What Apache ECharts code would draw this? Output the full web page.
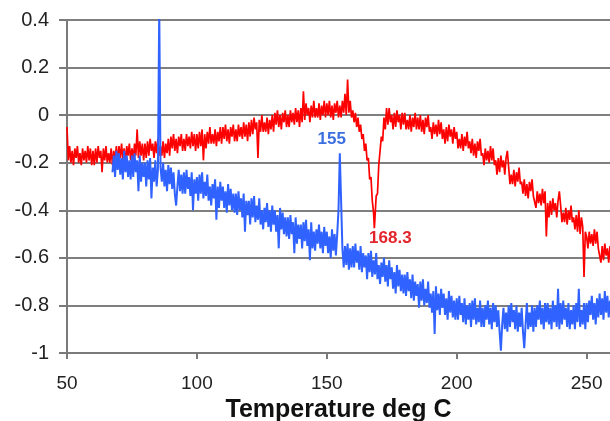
<!DOCTYPE html>
<html>
<head>
<meta charset="utf-8">
<script src="https://cdn.jsdelivr.net/npm/echarts@6/dist/echarts.min.js"></script>
<style>
  html, body { margin: 0; padding: 0; background: #fff; }
  #chart { width: 610px; height: 421px; }
</style>
</head>
<body>
<div id="chart"></div>
<script>
// Sample spacing of both traces, in deg C
const STEP = 0.5;

// Red trace: 50.0 .. 168.0 deg C
const redStart = 50;
const redA = [
  -0.05, -0.19, -0.13, -0.2, -0.15, -0.21, -0.14, -0.18, -0.13, -0.2,
  -0.16, -0.21, -0.14, -0.19, -0.15, -0.2, -0.13, -0.19, -0.14, -0.21,
  -0.15, -0.21, -0.14, -0.2, -0.13, -0.18, -0.15, -0.24, -0.14, -0.19,
  -0.13, -0.2, -0.16, -0.2, -0.14, -0.21, -0.15, -0.19, -0.13, -0.2,
  -0.13, -0.18, -0.12, -0.19, -0.14, -0.2, -0.13, -0.17, -0.12, -0.19,
  -0.14, -0.19, -0.12, -0.17, -0.06, -0.18, -0.11, -0.17, -0.12, -0.19,
  -0.12, -0.18, -0.11, -0.17, -0.1, -0.15, -0.12, -0.18, -0.11, -0.16,
  -0.1, -0.17, -0.13, -0.17, -0.11, -0.18, -0.12, -0.16, -0.1, -0.17,
  -0.09, -0.14, -0.08, -0.15, -0.1, -0.16, -0.09, -0.13, -0.08, -0.15,
  -0.1, -0.15, -0.08, -0.13, -0.09, -0.14, -0.07, -0.13, -0.08, -0.15,
  -0.08, -0.14, -0.07, -0.13, -0.06, -0.19, -0.08, -0.14, -0.07, -0.12,
  -0.05, -0.12, -0.08, -0.12, -0.06, -0.13, -0.07, -0.11, -0.05, -0.12,
  -0.05, -0.1, -0.04, -0.11, -0.06, -0.12, -0.05, -0.09, -0.04, -0.11,
  -0.06, -0.11, -0.04, -0.09, -0.05, -0.1, -0.03, -0.09, -0.04, -0.11,
  -0.03, -0.09, -0.02, -0.08, -0.01, -0.06, -0.03, -0.18, -0.02, -0.07,
  0.0, -0.07, -0.03, -0.07, -0.01, -0.08, -0.02, -0.06, 0.0, -0.07,
  0.01, -0.04, 0.02, -0.05, 0.0, -0.06, 0.01, -0.03, 0.02, -0.05,
  0.0, -0.05, 0.02, -0.03, 0.01, -0.04, 0.03, -0.03, 0.02, -0.05,
  0.03, -0.03, 0.1, -0.02, 0.05, 0.0, 0.03, -0.03, 0.04, -0.01,
  0.06, -0.01, 0.03, -0.01, 0.05, -0.02, 0.04, 0.0, 0.06, -0.01,
  0.05, 0.0, 0.06, -0.01, 0.04, -0.02, 0.05, 0.01, 0.06, -0.01,
  0.04, -0.01, 0.06, 0.01, 0.09, 0.0, 0.15, 0.01, 0.06, -0.01,
  0.02, -0.03, 0.01, -0.05, -0.01, -0.07, -0.04, -0.1, -0.08, -0.15,
  -0.12, -0.19, -0.18, -0.27, -0.26, -0.36, -0.41
];
// Bottom of the red dip: [deg C, value]
const redDip = [168.3, -0.475];
// Red trace: 168.5 .. 259.0 deg C
const redBStart = 168.5;
const redB = [
  -0.44, -0.34, -0.33, -0.21, -0.21, -0.09, -0.11, -0.01, -0.06, 0.03,
  -0.04, 0.03, -0.03,
  0.0, -0.06, 0.01, -0.05, 0.02, -0.03, 0.0, -0.06, 0.01, -0.04,
  0.01, -0.06, -0.02, -0.06, 0.0, -0.07, -0.01, -0.05, 0.01, -0.06,
  -0.01, -0.06, 0.0, -0.07, -0.02, -0.08, -0.01, -0.05, 0.0, -0.07,
  -0.05, -0.1, -0.03, -0.08, -0.04, -0.09, -0.02, -0.08, -0.03, -0.1,
  -0.06, -0.12, -0.05, -0.11, -0.04, -0.09, -0.06, -0.12, -0.05, -0.1,
  -0.07, -0.14, -0.1, -0.14, -0.08, -0.15, -0.09, -0.13, -0.07, -0.14,
  -0.11, -0.16, -0.1, -0.17, -0.12, -0.18, -0.11, -0.15, -0.1, -0.17,
  -0.16, -0.21, -0.14, -0.19, -0.15, -0.2, -0.13, -0.19, -0.14, -0.21,
  -0.19, -0.25, -0.18, -0.24, -0.17, -0.22, -0.19, -0.25, -0.18, -0.15,
  -0.22, -0.29, -0.25, -0.29, -0.23, -0.3, -0.24, -0.28, -0.22, -0.29,
  -0.28, -0.33, -0.27, -0.34, -0.29, -0.35, -0.28, -0.32, -0.27, -0.34,
  -0.34, -0.39, -0.32, -0.37, -0.33, -0.38, -0.31, -0.37, -0.32, -0.51,
  -0.37, -0.43, -0.36, -0.42, -0.35, -0.4, -0.37, -0.43, -0.36, -0.32,
  -0.38, -0.45, -0.41, -0.45, -0.39, -0.46, -0.4, -0.44, -0.38, -0.45,
  -0.43, -0.48, -0.42, -0.49, -0.4, -0.5, -0.43, -0.47, -0.68, -0.49,
  -0.51, -0.56, -0.49, -0.54, -0.5, -0.55, -0.48, -0.54, -0.49, -0.56,
  -0.56, -0.62, -0.55, -0.61, -0.54, -0.59, -0.56, -0.62, -0.55
];

// Blue trace: 67.5 .. 154.5 deg C
const blueStart = 67.5;
const blueA = [
  -0.24, -0.17, -0.26, -0.15, -0.23,
  -0.16, -0.25, -0.18, -0.27, -0.15, -0.24, -0.17, -0.26, -0.19, -0.27,
  -0.17, -0.26, -0.16, -0.24, -0.19, -0.32, -0.17, -0.28, -0.2, -0.26,
  -0.2, -0.3, -0.19, -0.27, -0.18, -0.35, -0.22, -0.28, -0.19, -0.3,
  -0.23, 0.45, -0.22, -0.28, -0.2, -0.3, -0.23, -0.32, -0.21, -0.29,
  -0.22, -0.31, -0.24, -0.33, -0.38, -0.3, -0.23, -0.32, -0.25, -0.33,
  -0.24, -0.33, -0.23, -0.31, -0.26, -0.34, -0.24, -0.4, -0.27, -0.33,
  -0.26, -0.36, -0.25, -0.33, -0.24, -0.35, -0.28, -0.34, -0.25, -0.36,
  -0.3, -0.38, -0.29, -0.35, -0.27, -0.44, -0.3, -0.39, -0.28, -0.36,
  -0.3, -0.39, -0.32, -0.41, -0.29, -0.38, -0.31, -0.4, -0.33, -0.41,
  -0.33, -0.42, -0.32, -0.4, -0.35, -0.43, -0.33, -0.49, -0.36, -0.42,
  -0.36, -0.46, -0.35, -0.43, -0.34, -0.45, -0.38, -0.44, -0.35, -0.46,
  -0.4, -0.48, -0.39, -0.45, -0.37, -0.47, -0.4, -0.49, -0.38, -0.46,
  -0.4, -0.49, -0.42, -0.56, -0.39, -0.48, -0.41, -0.5, -0.43, -0.51,
  -0.43, -0.52, -0.42, -0.5, -0.45, -0.58, -0.43, -0.54, -0.46, -0.52,
  -0.46, -0.56, -0.45, -0.53, -0.44, -0.55, -0.48, -0.61, -0.45, -0.56,
  -0.49, -0.57, -0.48, -0.54, -0.46, -0.56, -0.49, -0.58, -0.47, -0.55,
  -0.49, -0.58, -0.51, -0.6, -0.48, -0.57, -0.5, -0.59, -0.5, -0.4
];
// Top of the blue peak: [deg C, value]
const bluePeak = [155, -0.16];
// Blue trace: 155.5 .. 259.0 deg C
const blueBStart = 155.5;
const blueB = [
  -0.36, -0.56, -0.64, -0.55, -0.63, -0.54, -0.65, -0.56, -0.64,
  -0.55, -0.64, -0.54, -0.62, -0.57, -0.65, -0.55, -0.66, -0.58, -0.64,
  -0.59, -0.69, -0.58, -0.66, -0.57, -0.68, -0.61, -0.67, -0.58, -0.69,
  -0.63, -0.71, -0.62, -0.68, -0.6, -0.7, -0.63, -0.72, -0.61, -0.69,
  -0.64, -0.73, -0.66, -0.75, -0.63, -0.72, -0.65, -0.74, -0.67, -0.75,
  -0.67, -0.76, -0.66, -0.74, -0.69, -0.77, -0.67, -0.78, -0.7, -0.76,
  -0.71, -0.81, -0.7, -0.78, -0.69, -0.8, -0.73, -0.79, -0.7, -0.81,
  -0.75, -0.83, -0.74, -0.92, -0.72, -0.82, -0.75, -0.84, -0.73, -0.81,
  -0.75, -0.84, -0.77, -0.86, -0.74, -0.83, -0.76, -0.85, -0.78, -0.86,
  -0.77, -0.86, -0.76, -0.84, -0.79, -0.87, -0.77, -0.88, -0.8, -0.86,
  -0.79, -0.89, -0.78, -0.86, -0.77, -0.88, -0.81, -0.87, -0.78, -0.89,
  -0.81, -0.89, -0.8, -0.86, -0.78, -0.88, -0.81, -0.9, -0.79, -0.87,
  -0.8, -0.89, -0.82, -0.91, -0.99, -0.88, -0.81, -0.9, -0.83, -0.91,
  -0.8, -0.89, -0.79, -0.87, -0.82, -0.9, -0.8, -0.91, -0.83, -0.89,
  -0.81, -0.91, -0.98, -0.88, -0.79, -0.9, -0.83, -0.89, -0.8, -0.91,
  -0.81, -0.89, -0.8, -0.86, -0.78, -0.88, -0.81, -0.9, -0.79, -0.87,
  -0.79, -0.88, -0.81, -0.9, -0.78, -0.87, -0.8, -0.89, -0.73, -0.9,
  -0.79, -0.88, -0.78, -0.86, -0.81, -0.89, -0.79, -0.9, -0.82, -0.88,
  -0.8, -0.9, -0.79, -0.87, -0.73, -0.89, -0.82, -0.88, -0.79, -0.9,
  -0.79, -0.87, -0.78, -0.84, -0.76, -0.86, -0.79, -0.88, -0.77, -0.85,
  -0.75, -0.84, -0.77, -0.86, -0.74, -0.83, -0.76, -0.85, -0.78
];

// Axis settings
const xMin = 50, xMax = 259, xStep = 50;
const yMin = -1, yMax = 0.4, yStep = 0.2;
const xTitle = 'Temperature deg C';

const FONT = "'Liberation Sans', Arial, sans-serif";
const RED = '#ff0000';
const BLUE = '#2f62ff';

function toPoints(start, vals) {
  return vals.map((v, i) => [start + i * STEP, v]);
}

const redData = toPoints(redStart, redA)
  .concat([redDip])
  .concat(toPoints(redBStart, redB));
const blueData = toPoints(blueStart, blueA)
  .concat([bluePeak])
  .concat(toPoints(blueBStart, blueB));

const chart = echarts.init(document.getElementById('chart'), null, { renderer: 'canvas' });

chart.setOption({
  animation: false,
  backgroundColor: '#ffffff',
  grid: { left: 67, right: 0, top: 20, bottom: 68, containLabel: false, outerBoundsMode: 'none' },
  xAxis: {
    type: 'value',
    min: xMin, max: xMax, interval: xStep,
    name: xTitle,
    nameLocation: 'middle',
    nameGap: 42,
    nameTextStyle: { fontFamily: FONT, fontSize: 25, fontWeight: 'bold', color: '#111' },
    axisLine: { show: true, onZero: false, lineStyle: { color: '#7a7a7a', width: 2 } },
    axisTick: { show: true, inside: false, length: 6, lineStyle: { color: '#7a7a7a', width: 2 } },
    axisLabel: { margin: 21, fontFamily: FONT, fontSize: 19, color: '#222', showMaxLabel: false },
    splitLine: { show: false }
  },
  yAxis: {
    type: 'value',
    min: yMin, max: yMax, interval: yStep,
    axisLine: { show: true, onZero: false, lineStyle: { color: '#7a7a7a', width: 2 } },
    axisTick: { show: true, inside: false, length: 8, lineStyle: { color: '#7a7a7a', width: 2 } },
    axisLabel: { margin: 18, fontFamily: FONT, fontSize: 20, color: '#222' },
    splitLine: { show: true, lineStyle: { color: '#7f7f7f', width: 2 } }
  },
  series: [
    {
      name: 'red',
      type: 'line',
      data: redData,
      showSymbol: false,
      clip: true,
      lineStyle: { color: RED, width: 1.7 },
      itemStyle: { color: RED },
      markPoint: {
        symbol: 'circle',
        symbolSize: 0,
        data: [{
          coord: redDip,
          label: {
            show: true,
            position: 'bottom',
            distance: 2,
            offset: [16, 0],
            formatter: () => redDip[0].toFixed(1),
            fontFamily: FONT, fontSize: 17, fontWeight: 'bold', color: '#e3242b'
          }
        }]
      }
    },
    {
      name: 'blue',
      type: 'line',
      data: blueData,
      showSymbol: false,
      clip: true,
      lineStyle: { color: BLUE, width: 2 },
      itemStyle: { color: BLUE },
      markPoint: {
        symbol: 'circle',
        symbolSize: 0,
        data: [{
          coord: bluePeak,
          label: {
            show: true,
            position: 'top',
            distance: 5,
            offset: [-8, 0],
            formatter: () => String(bluePeak[0]),
            fontFamily: FONT, fontSize: 17, fontWeight: 'bold', color: '#3b6ee0'
          }
        }]
      }
    }
  ]
});
</script>
</body>
</html>
